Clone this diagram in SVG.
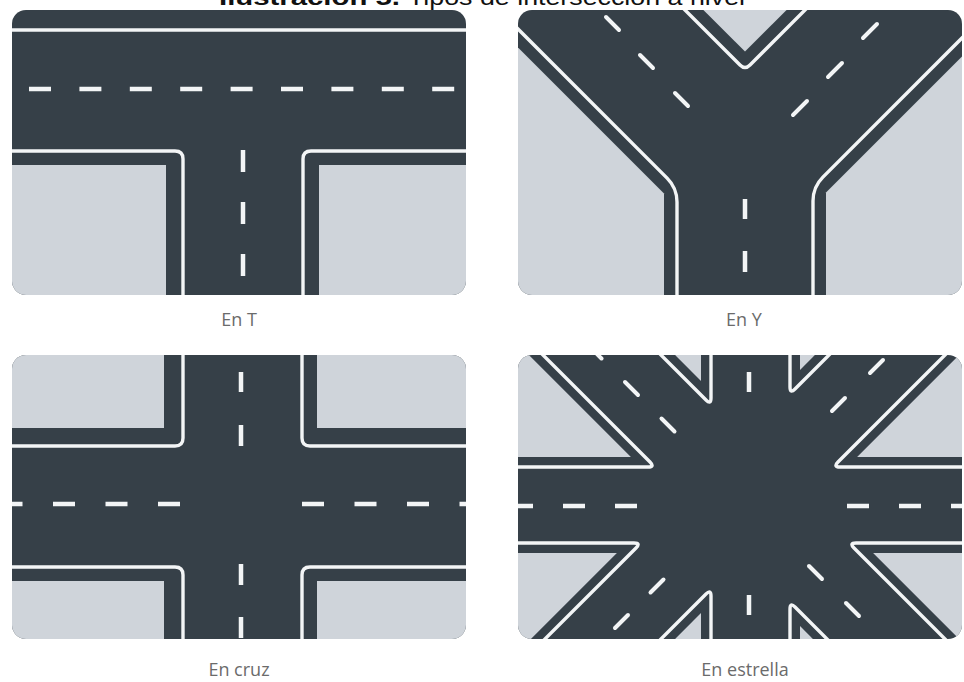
<svg xmlns="http://www.w3.org/2000/svg" width="964" height="682" viewBox="0 0 964 682">
  <style>
    .asphalt { fill: #364048; }
    .block { fill: #cfd4da; }
    .edge { fill: none; stroke: #f3f5f6; stroke-width: 3.4; stroke-linejoin: round; }
    .dash { fill: none; stroke: #f3f5f6; stroke-width: 4.5; }
    .dash-d { fill: none; stroke: #f3f5f6; stroke-width: 4; stroke-linecap: round; }
    .label { font-family: "Open Sans", "Liberation Sans", sans-serif; font-size: 18px; fill: #6b6b6b; text-anchor: middle; }
    .title { font-family: "Liberation Sans", "DejaVu Sans", sans-serif; font-size: 22px; fill: #111; }
  </style>
  <defs>
    <clipPath id="clip-t"><rect x="12" y="10" width="454" height="285" rx="14"/></clipPath>
    <clipPath id="clip-y"><rect x="518" y="10" width="444" height="285" rx="14"/></clipPath>
    <clipPath id="clip-c"><rect x="12" y="355" width="454" height="284" rx="14"/></clipPath>
    <clipPath id="clip-s"><rect x="518" y="355" width="444" height="284" rx="14"/></clipPath>
  </defs>

  <rect width="964" height="682" fill="#ffffff"/>

  <!-- caption, clipped by the top edge -->
  <g id="title">
    <text class="title" x="219" y="4.5" font-weight="bold" textLength="181" lengthAdjust="spacingAndGlyphs">Ilustración 5.</text>
    <text class="title" x="408" y="4.5" textLength="337" lengthAdjust="spacingAndGlyphs">Tipos de intersección a nivel</text>
  </g>

  <!-- T junction -->
  <g id="panel-t">
    <g clip-path="url(#clip-t)">
      <rect class="asphalt" x="12" y="10" width="454" height="285"/>
      <rect class="block" x="0" y="165" width="166" height="140"/>
      <rect class="block" x="319" y="165" width="160" height="140"/>
      <path class="edge" d="M0 30 H480"/>
      <path class="edge" d="M0 151 H175 Q183 151 183 159 V300"/>
      <path class="edge" d="M480 151 H311 Q303 151 303 159 V300"/>
      <line class="dash" x1="29" y1="89" x2="455" y2="89" stroke-dasharray="22 28.4"/>
      <line class="dash" x1="243" y1="150" x2="243" y2="300" stroke-dasharray="22 30"/>
    </g>
    <text class="label" x="239" y="326">En T</text>
  </g>

  <!-- Y junction -->
  <g id="panel-y">
    <g clip-path="url(#clip-y)">
      <rect class="asphalt" x="518" y="10" width="444" height="285"/>
      <polygon class="block" points="300,-170.6 664,193.4 664,400 300,400"/>
      <polygon class="block" points="826,400 826,192.4 1200,-181.6 1200,400"/>
      <polygon class="block" points="643.4,-50 745,51.6 846.6,-50"/>
      <path class="edge" d="M469 -20 L667.1 178.1 Q677 188 677 202 V300"/>
      <path class="edge" d="M1020 -20 L822.9 177.1 Q813 187 813 201 V300"/>
      <path class="edge" d="M655 -20 L740 65 Q745 70 750 65 L835 -20"/>
      <line class="dash-d" x1="606" y1="17" x2="619" y2="30"/>
      <line class="dash-d" x1="640" y1="55" x2="653" y2="68"/>
      <line class="dash-d" x1="675" y1="93" x2="688" y2="106"/>
      <line class="dash-d" x1="863" y1="38" x2="877" y2="24"/>
      <line class="dash-d" x1="828" y1="77" x2="842" y2="63"/>
      <line class="dash-d" x1="793" y1="115" x2="807" y2="101"/>
      <line class="dash" x1="745" y1="199" x2="745" y2="219"/>
      <line class="dash" x1="745" y1="251" x2="745" y2="272"/>
    </g>
    <text class="label" x="744" y="326">En Y</text>
  </g>

  <!-- four-way cross -->
  <g id="panel-cross">
    <g clip-path="url(#clip-c)">
      <rect class="asphalt" x="12" y="355" width="454" height="284"/>
      <rect class="block" x="0" y="340" width="164" height="88"/>
      <rect class="block" x="317" y="340" width="160" height="88"/>
      <rect class="block" x="0" y="581" width="164" height="70"/>
      <rect class="block" x="317" y="581" width="160" height="70"/>
      <path class="edge" d="M0 446 H175 Q183 446 183 438 V340"/>
      <path class="edge" d="M480 446 H310 Q302 446 302 438 V340"/>
      <path class="edge" d="M0 567 H175 Q183 567 183 575 V650"/>
      <path class="edge" d="M480 567 H310 Q302 567 302 575 V650"/>
      <line class="dash" x1="0.5" y1="504" x2="181" y2="504" stroke-dasharray="22 30.5"/>
      <line class="dash" x1="302" y1="504" x2="480" y2="504" stroke-dasharray="22 30.5"/>
      <line class="dash" x1="241" y1="372" x2="241" y2="392"/>
      <line class="dash" x1="241" y1="425" x2="241" y2="446"/>
      <line class="dash" x1="241" y1="564" x2="241" y2="585"/>
      <line class="dash" x1="241" y1="617" x2="241" y2="638"/>
    </g>
    <text class="label" x="239" y="676">En cruz</text>
  </g>

  <!-- star junction -->
  <g id="panel-star">
    <g clip-path="url(#clip-s)">
      <rect class="asphalt" x="518" y="355" width="444" height="284"/>
      <polygon class="block" points="630.9,457 473.9,300 400,300 400,457"/>
      <polygon class="block" points="701,380.9 701,300 620.1,300"/>
      <polygon class="block" points="800,369.9 869.9,300 800,300"/>
      <polygon class="block" points="857.1,457 1014.1,300 1100,300 1100,457"/>
      <polygon class="block" points="873.1,553 1100,553 1100,700 1020.1,700"/>
      <polygon class="block" points="800,626.1 873.9,700 800,700"/>
      <polygon class="block" points="701,613.1 701,700 614.1,700"/>
      <polygon class="block" points="616.9,553 400,553 400,700 469.9,700"/>
      <path class="edge" d="M400 467 H648 Q655 467 650 462 L488 300"/>
      <path class="edge" d="M606 300 L706 400 Q711 405 711 398 V300"/>
      <path class="edge" d="M790 300 V387 Q790 394 795 389 L884 300"/>
      <path class="edge" d="M1000 300 L838 462 Q833 467 840 467 H1100"/>
      <path class="edge" d="M1100 543 H856 Q849 543 854 548 L1006 700"/>
      <path class="edge" d="M888 700 L795 607 Q790 602 790 609 V700"/>
      <path class="edge" d="M711 700 V596 Q711 589 706 594 L600 700"/>
      <path class="edge" d="M484 700 L636 548 Q641 543 634 543 H400"/>
      <line class="dash" x1="511" y1="506" x2="640" y2="506" stroke-dasharray="22 30"/>
      <line class="dash" x1="847" y1="506" x2="980" y2="506" stroke-dasharray="22 30"/>
      <line class="dash" x1="749" y1="372" x2="749" y2="392"/>
      <line class="dash" x1="749" y1="595" x2="749" y2="615"/>
      <line class="dash-d" x1="588.5" y1="345.5" x2="601.5" y2="358.5"/>
      <line class="dash-d" x1="625" y1="382" x2="638" y2="395"/>
      <line class="dash-d" x1="661.5" y1="418.5" x2="674.5" y2="431.5"/>
      <line class="dash-d" x1="809" y1="566" x2="822" y2="579"/>
      <line class="dash-d" x1="846" y1="603" x2="859" y2="616"/>
      <line class="dash-d" x1="870" y1="373" x2="883" y2="360"/>
      <line class="dash-d" x1="832" y1="411" x2="845" y2="398"/>
      <line class="dash-d" x1="650.5" y1="592.5" x2="663.5" y2="579.5"/>
      <line class="dash-d" x1="615" y1="628" x2="628" y2="615"/>
    </g>
    <text class="label" x="745" y="676">En estrella</text>
  </g>
</svg>
